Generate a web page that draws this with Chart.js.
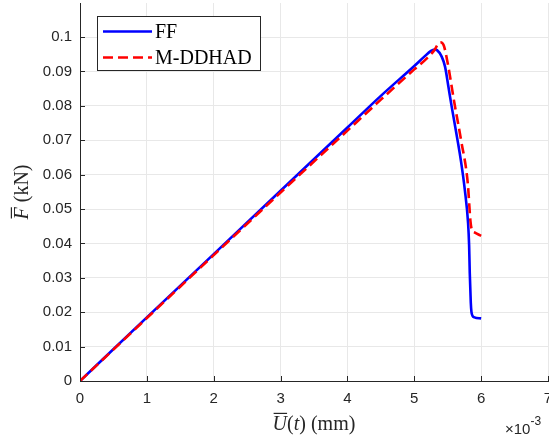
<!DOCTYPE html>
<html>
<head>
<meta charset="utf-8">
<script src="https://cdn.jsdelivr.net/npm/chart.js@4.4.0/dist/chart.umd.min.js"></script>
<style>
  html, body { margin: 0; padding: 0; background: #fff; }
</style>
</head>
<body>
<canvas id="forceChart" width="549" height="440"></canvas>
<script>
// data (x in units of 1e-3 mm, y in kN)
const seriesNames = ['FF', 'M-DDHAD'];
const ffU = [0, 1, 2, 3, 4, 4.5, 5, 5.15, 5.25, 5.3, 5.34, 5.41, 5.46, 5.51, 5.56, 5.64, 5.7, 5.755, 5.805, 5.82, 5.83, 5.845, 5.855, 5.87, 5.9, 6.0];
const ffF = [0, 0.0185, 0.0369, 0.0553, 0.0737, 0.0829, 0.0916, 0.0943, 0.0960, 0.0964, 0.0962, 0.0943, 0.0914, 0.0856, 0.0797, 0.0708, 0.0637, 0.0557, 0.0458, 0.0395, 0.0313, 0.0228, 0.0201, 0.0190, 0.0185, 0.0182];
const ddU = [0, 1, 2, 3, 4, 4.5, 5, 5.2, 5.3, 5.35, 5.39, 5.44, 5.5, 5.6, 5.7, 5.8, 5.84, 5.86, 5.9, 6.0];
const ddF = [0, 0.0183, 0.0366, 0.0548, 0.0728, 0.0818, 0.0906, 0.0940, 0.0962, 0.0978, 0.0985, 0.0976, 0.0924, 0.0808, 0.0700, 0.0575, 0.0465, 0.0440, 0.0432, 0.0422];
const xTicks = [0, 1, 2, 3, 4, 5, 6, 7];
const yTicks = [0, 0.01, 0.02, 0.03, 0.04, 0.05, 0.06, 0.07, 0.08, 0.09, 0.1];
const yTickLabels = ['0', '0.01', '0.02', '0.03', '0.04', '0.05', '0.06', '0.07', '0.08', '0.09', '0.1'];

const toPoints = (xs, ys) => xs.map((x, i) => ({ x: x, y: ys[i] }));

const INK = '#262626';
const SERIF = '"Liberation Serif", "DejaVu Serif", serif';
const SANS = '"Liberation Sans", Arial, sans-serif';

// draws a run of text pieces (italic / upright / overline) starting at x
function drawPieces(ctx, pieces, x, y, size) {
  pieces.forEach(p => {
    ctx.font = (p.it ? 'italic ' : '') + size + 'px ' + SERIF;
    const w = ctx.measureText(p.t).width;
    ctx.fillText(p.t, x, y);
    if (p.over) {
      ctx.fillRect(x + 1, y - size * 0.86, w - 1, 1.2);
    }
    x += w;
  });
  return x;
}
function piecesWidth(ctx, pieces, size) {
  let w = 0;
  pieces.forEach(p => {
    ctx.font = (p.it ? 'italic ' : '') + size + 'px ' + SERIF;
    w += ctx.measureText(p.t).width;
  });
  return w;
}

// no extra room for overhanging tick labels
function noPad(s) {
  s.paddingLeft = 0;
  s.paddingRight = 0;
  s.paddingTop = 0;
  s.paddingBottom = 0;
}

const overlay = {
  id: 'overlay',
  afterDraw(chart) {
    const ctx = chart.ctx;
    const area = chart.chartArea;
    const xs = chart.scales.x, ys = chart.scales.y;
    ctx.save();

    // inward tick marks, MATLAB style
    ctx.strokeStyle = INK;
    ctx.lineWidth = 1;
    ctx.beginPath();
    xTicks.forEach(v => {
      const px = Math.round(xs.getPixelForValue(v)) + 0.5;
      ctx.moveTo(px, area.bottom);
      ctx.lineTo(px, area.bottom - 5);
    });
    yTicks.forEach(v => {
      const py = Math.round(ys.getPixelForValue(v)) + 0.5;
      ctx.moveTo(area.left, py);
      ctx.lineTo(area.left + 5, py);
    });
    ctx.stroke();

    ctx.fillStyle = INK;
    ctx.textBaseline = 'alphabetic';
    ctx.textAlign = 'left';

    const size = 20;
    // x axis title
    const xTitle = [
      { t: 'U', it: true, over: true }, { t: '(' }, { t: 't', it: true }, { t: ')' }, { t: ' (mm)' }
    ];
    const xw = piecesWidth(ctx, xTitle, size);
    drawPieces(ctx, xTitle, (area.left + area.right) / 2 - xw / 2, 430, size);

    // y axis title, rotated
    const yTitle = [{ t: 'F', it: true, over: true }, { t: ' (kN)' }];
    const yw = piecesWidth(ctx, yTitle, size);
    ctx.save();
    ctx.translate(28, (area.top + area.bottom) / 2);
    ctx.rotate(-Math.PI / 2);
    drawPieces(ctx, yTitle, -yw / 2, 0, size);
    ctx.restore();

    // exponent
    ctx.font = '15px ' + SANS;
    ctx.fillText('\u00d710', 505, 434);
    const ew = ctx.measureText('\u00d710').width;
    ctx.font = '12px ' + SANS;
    ctx.fillText('-3', 505 + ew, 425);

    // legend box
    const lx = 97.5, ly = 16.5, lw = 163, lh = 54;
    ctx.fillStyle = '#fff';
    ctx.fillRect(lx, ly, lw, lh);
    ctx.strokeStyle = INK;
    ctx.lineWidth = 1;
    ctx.strokeRect(lx, ly, lw, lh);
    const rows = [31.5, 57.5];
    chart.data.datasets.forEach((ds, i) => {
      ctx.strokeStyle = ds.borderColor;
      ctx.lineWidth = ds.borderWidth;
      ctx.setLineDash(ds.borderDash || []);
      ctx.beginPath();
      ctx.moveTo(103, rows[i]);
      ctx.lineTo(152, rows[i]);
      ctx.stroke();
      ctx.setLineDash([]);
      ctx.fillStyle = '#000';
      ctx.font = size + 'px ' + SERIF;
      ctx.fillText(ds.label, 155, rows[i] + 6);
    });

    ctx.restore();
  }
};

new Chart(document.getElementById('forceChart'), {
  type: 'scatter',
  data: {
    datasets: [
      {
        label: seriesNames[0],
        data: toPoints(ffU, ffF),
        showLine: true,
        borderColor: '#0000ff',
        borderWidth: 2.6,
        pointRadius: 0,
        cubicInterpolationMode: 'monotone',
        order: 1
      },
      {
        label: seriesNames[1],
        data: toPoints(ddU, ddF),
        showLine: true,
        borderColor: '#ff0000',
        borderWidth: 2.6,
        borderDash: [10, 5],
        pointRadius: 0,
        cubicInterpolationMode: 'monotone',
        order: 0
      }
    ]
  },
  options: {
    responsive: false,
    animation: false,
    devicePixelRatio: 1,
    layout: { padding: { top: 3, right: 1, left: 0, bottom: 0 } },
    plugins: {
      legend: { display: false },
      tooltip: { enabled: false }
    },
    scales: {
      x: {
        type: 'linear',
        min: 0,
        max: 7,
        afterBuildTicks: s => { s.ticks = xTicks.map(v => ({ value: v })); },
        afterFit: s => { s.height = 59; noPad(s); },
        ticks: {
          color: INK,
          font: { family: SANS, size: 15 },
          padding: 9,
          maxRotation: 0,
          callback: v => String(v)
        },
        grid: { color: '#e8e8e8', drawTicks: false },
        border: { color: INK, width: 1 }
      },
      y: {
        type: 'linear',
        min: 0,
        max: 0.1099,
        afterBuildTicks: s => { s.ticks = yTicks.map(v => ({ value: v })); },
        afterFit: s => { s.width = 80; noPad(s); },
        ticks: {
          color: INK,
          font: { family: SANS, size: 15 },
          padding: 8,
          callback: (v, i) => yTickLabels[i]
        },
        grid: { color: '#e8e8e8', drawTicks: false },
        border: { color: INK, width: 1 }
      }
    }
  },
  plugins: [overlay]
});
</script>
</body>
</html>
